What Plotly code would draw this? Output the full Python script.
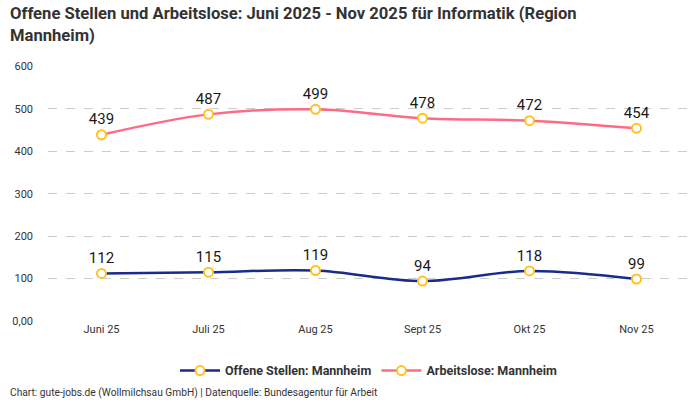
import plotly.graph_objects as go

months = ["Juni 25", "Juli 25", "Aug 25", "Sept 25", "Okt 25", "Nov 25"]
offene_stellen = [112, 115, 119, 94, 118, 99]
arbeitslose = [439, 487, 499, 478, 472, 454]
y_ticks = [0, 100, 200, 300, 400, 500, 600]
y_tick_labels = ["0,00", "100", "200", "300", "400", "500", "600"]

FONT = "Roboto"
marker = dict(size=9, color="white", line=dict(color="#ffc21f", width=2))

fig = go.Figure()
fig.add_trace(go.Scatter(
    x=months, y=offene_stellen, name="<b>Offene Stellen: Mannheim</b>",
    mode="lines+markers+text", line=dict(color="#1a2b8c", width=2.5, shape="spline"),
    marker=marker, text=[str(v) for v in offene_stellen], textposition="top center",
    textfont=dict(size=15, color="#1a1a1a", family=FONT),
))
fig.add_trace(go.Scatter(
    x=months, y=arbeitslose, name="<b>Arbeitslose: Mannheim</b>",
    mode="lines+markers+text", line=dict(color="#ff6b86", width=2.5, shape="spline"),
    marker=marker, text=[str(v) for v in arbeitslose], textposition="top center",
    textfont=dict(size=15, color="#1a1a1a", family=FONT),
))

fig.update_layout(
    width=700, height=400,
    margin=dict(l=48, r=10, t=66, b=79),
    paper_bgcolor="white", plot_bgcolor="white",
    font=dict(family=FONT, color="#333"),
    showlegend=True,
    legend=dict(orientation="h", x=0.5, xanchor="center", y=-0.196, yanchor="middle",
                font=dict(size=12.5, color="#333", family=FONT), itemwidth=40),
    annotations=[
        dict(
            text="<b>Offene Stellen und Arbeitslose: Juni 2025 - Nov 2025 für Informatik (Region<br>Mannheim)</b>",
            xref="paper", yref="paper", x=-0.062, y=1.25, xanchor="left", yanchor="top",
            align="left", showarrow=False, font=dict(size=16.6, color="#333", family=FONT),
        ),
        dict(
            text="Chart: gute-jobs.de (Wollmilchsau GmbH) | Datenquelle: Bundesagentur für Arbeit",
            xref="paper", yref="paper", x=-0.062, y=-0.282, xanchor="left", yanchor="middle",
            showarrow=False, font=dict(size=10.2, color="#333", family=FONT),
        ),
    ],
)
fig.update_xaxes(range=[-0.5, 5.5], showgrid=False, showline=False, zeroline=False,
                 ticks="", tickfont=dict(size=11, color="#333"))
fig.update_yaxes(range=[0, 601], tickvals=y_ticks, ticktext=y_tick_labels,
                 showgrid=True, gridcolor="#cccccc", griddash="dash", zeroline=False,
                 showline=False, ticks="", ticklabelstandoff=14,
                 tickfont=dict(size=11, color="#333"))

# the page's default body margin would shift the 700x400 figure
fig.write_html("out.html", config={"displayModeBar": False},
               post_script="document.body.style.margin='0';")
